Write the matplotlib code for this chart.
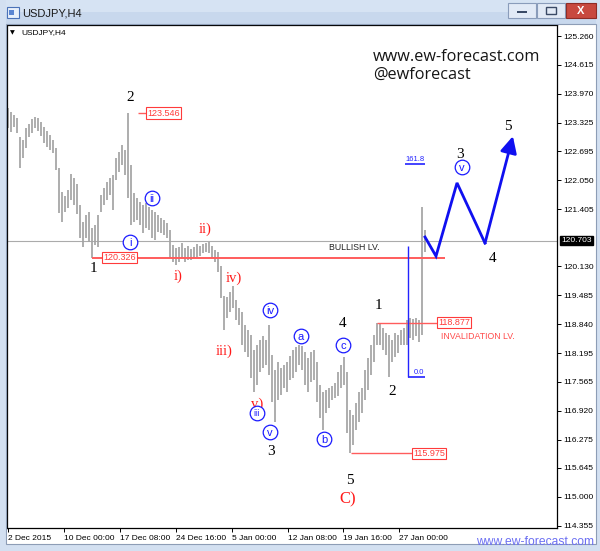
import matplotlib
matplotlib.use('Agg')
import matplotlib.pyplot as plt
from matplotlib.patches import Rectangle

plt.rcParams['font.family'] = ['Liberation Sans', 'DejaVu Sans']

# ---------------- data (USDJPY H4, one entry per bar) ----------------
bar_high = [123.66, 123.57, 123.50, 123.43, 123.01, 122.94, 123.21, 123.30, 123.41, 123.46,
            123.43, 123.35, 123.23, 123.15, 123.06, 122.94, 122.77, 122.32, 121.79, 121.70,
            121.83, 122.19, 122.10, 121.97, 121.50, 121.12, 121.27, 121.34, 120.99, 121.05,
            121.27, 121.72, 121.88, 122.01, 122.10, 122.17, 122.54, 122.68, 122.83, 122.72,
            123.546, 122.39, 121.77, 121.65, 121.56, 121.50, 121.54, 121.45, 121.39, 121.34,
            121.27, 121.21, 121.16, 121.10, 120.94, 120.61, 120.54, 120.56, 120.65, 120.54,
            120.59, 120.52, 120.56, 120.63, 120.59, 120.63, 120.65, 120.67, 120.59, 120.50,
            120.45, 120.14, 119.47, 119.45, 119.56, 119.70, 119.38, 119.21, 119.12, 118.83,
            118.72, 118.60, 118.27, 118.38, 118.49, 118.58, 118.49, 118.83, 118.16, 117.82,
            118.00, 117.87, 117.94, 118.00, 118.14, 118.27, 118.34, 118.38, 118.36, 118.23,
            118.09, 118.23, 118.27, 118.00, 117.49, 117.34, 117.38, 117.42, 117.47, 117.54,
            117.78, 117.94, 118.11, 117.78, 116.93, 116.82, 117.09, 117.34, 117.42, 117.82,
            118.09, 118.38, 118.60, 118.877, 118.87, 118.76, 118.65, 118.60, 118.49, 118.65,
            118.60, 118.72, 118.76, 118.94, 118.98, 118.96, 118.98, 118.94, 121.45, 120.94]
bar_low = [123.21, 123.12, 123.23, 123.10, 122.32, 122.54, 122.77, 123.01, 123.10, 123.21,
           123.15, 123.03, 122.88, 122.79, 122.72, 122.66, 122.28, 121.32, 121.12, 121.34,
           121.43, 121.61, 121.50, 121.30, 120.76, 120.56, 120.76, 120.67, 120.326, 120.61,
           120.56, 121.34, 121.50, 121.61, 121.72, 121.39, 122.05, 122.23, 122.39, 122.17,
           121.65, 121.05, 121.12, 121.16, 121.05, 120.87, 120.99, 120.94, 120.76, 120.72,
           120.90, 120.87, 120.83, 120.76, 120.32, 120.23, 120.16, 120.23, 120.32, 120.23,
           120.27, 120.27, 120.32, 120.34, 120.36, 120.43, 120.45, 120.43, 120.32, 120.23,
           120.01, 119.43, 118.72, 118.98, 119.12, 119.21, 118.94, 118.83, 118.38, 118.23,
           118.11, 117.65, 117.34, 117.49, 117.78, 117.87, 117.94, 117.71, 117.11, 116.67,
           117.16, 117.27, 117.42, 117.34, 117.60, 117.65, 117.78, 117.94, 117.82, 117.49,
           117.34, 117.56, 117.60, 117.11, 116.76, 116.49, 116.87, 116.98, 117.16, 117.20,
           117.25, 117.42, 117.49, 116.42, 115.975, 116.16, 116.49, 116.67, 116.87, 117.16,
           117.38, 117.71, 118.00, 118.38, 118.38, 118.27, 118.16, 117.67, 118.00, 118.11,
           118.20, 118.38, 118.38, 118.38, 118.54, 118.49, 118.58, 118.45, 118.60, 120.45]

ytick_vals = [125.260, 124.615, 123.970, 123.325, 122.695, 122.050, 121.405, 120.130,
              119.485, 118.840, 118.195, 117.565, 116.920, 116.275, 115.645, 115.000, 114.355]
xtick_labels = ['2 Dec 2015', '10 Dec 00:00', '17 Dec 08:00', '24 Dec 16:00',
                '5 Jan 00:00', '12 Jan 08:00', '19 Jan 16:00', '27 Jan 00:00']
xtick_bars = [0, 18.67, 37.33, 56, 74.67, 93.33, 111.67, 130.33]

last_price = 120.703

# price levels: (value, start bar, end bar, label box left bar)
levels = [(123.546, 43.3, 46.3, 46.3), (120.326, 28, 145.7, 31.7),
          (118.877, 123, 143.3, 143.3), (115.975, 114.3, 135, 135)]

# fibonacci tool
fib_x = 133.33
fib_x_end = 139
fib_zero = 117.67
fib_top = 120.59
fib_1618 = 122.41

# projected path (bar, price)
path_bars = [139, 142.67, 149.67, 159, 168.3]
path_prices = [120.785, 120.36, 121.99, 120.65, 123.03]

# wave labels
black_labels = ['2', '1', '3', '4', '5', '1', '2', '3', '5', '4']
black_bars = [40.67, 28.33, 87.67, 111.67, 114, 123.33, 128, 150.67, 166.67, 161.67]
black_prices = [123.90, 120.095, 116.022, 118.871, 115.376, 119.272, 117.357, 122.633, 123.256, 120.318]

red_labels = ['i)', 'ii)', 'iii)', 'iv)', 'v)', 'C)']
red_bars = [56.67, 65.67, 72, 75.33, 83, 113.33]
red_prices = [119.917, 120.963, 118.25, 119.873, 117.068, 114.953]

circ_labels = ['i', 'ii', 'iii', 'iv', 'v', 'a', 'b', 'c', 'v']
circ_bars = [40.67, 48, 83, 87.33, 87.33, 97.67, 105.33, 111.67, 151.33]
circ_prices = [120.674, 121.654, 116.868, 119.160, 116.445, 118.582, 116.289, 118.381, 122.344]

# ---------------- figure ----------------
W, H = 600, 551
fig = plt.figure(figsize=(W / 100, H / 100), dpi=100)
fig.patch.set_facecolor('white')


def frect(x0, y0, x1, y1, **kw):
    r = Rectangle((x0 / W, 1 - y1 / H), (x1 - x0) / W, (y1 - y0) / H,
                  transform=fig.transFigure, **kw)
    fig.add_artist(r)
    return r


frame_c = '#d3e0f1'
frect(0, 0, 600, 12, fc='#d6e3f3', ec='none')
frect(0, 12, 600, 24, fc='#c8d8ed', ec='none')
frect(0, 0, 5.5, 551, fc=frame_c, ec='none')
frect(0, 544, 600, 551, fc=frame_c, ec='none')
frect(596, 0, 600, 551, fc=frame_c, ec='none')
frect(5.5, 23.5, 596, 544, fc='none', ec='#8d9db6', lw=0.8)

# title bar icon + text
frect(7, 7, 19, 18, fc='#e8f0fb', ec='#4a72b8', lw=0.8)
frect(9, 10, 14, 15, fc='#5b86d2', ec='none')
fig.text(22 / W, 1 - 13 / H, 'USDJPY,H4', fontsize=8, va='center', ha='left', color='#1a1a1a')
# window buttons
frect(508, 3, 536, 18, fc='#e2eaf6', ec='#8a9cba', lw=0.8)
frect(517, 11, 527, 13, fc='#3a4a66', ec='none')
frect(537, 3, 565, 18, fc='#e2eaf6', ec='#8a9cba', lw=0.8)
frect(546, 7, 556, 14, fc='none', ec='#3a4a66', lw=1.0)
frect(566, 3, 596, 18, fc='#c8493f', ec='#8e2c26', lw=0.8)
fig.text(581 / W, 1 - 10.5 / H, 'X', fontsize=8, fontweight='bold', color='white',
         ha='center', va='center')

# ---------------- chart axes ----------------
ax = fig.add_axes([7 / W, 1 - 528 / H, 550 / W, 503 / H])
ax.set_facecolor('white')
ax.set_xlim(-1 / 3, 183)
ax.set_ylim(114.308, 125.505)
for s in ax.spines.values():
    s.set_color('black')
    s.set_linewidth(0.9)

bars_x = list(range(len(bar_high)))
ax.vlines(bars_x, bar_low, bar_high, color='#a3a3a3', lw=1.25, zorder=2)

ax.yaxis.tick_right()
ax.set_yticks(ytick_vals)
ax.set_yticklabels([f'{v:.3f}' for v in ytick_vals])
ax.set_xticks(xtick_bars)
ax.set_xticklabels(xtick_labels)
for lbl in ax.get_xticklabels():
    lbl.set_horizontalalignment('left')
ax.tick_params(axis='y', direction='out', length=3, width=0.7, pad=1.5, labelsize=6)
ax.tick_params(axis='x', direction='out', length=3, width=0.7, pad=2, labelsize=6)

# current price line and label
ax.axhline(last_price, color='#ababab', lw=0.8, zorder=1)
ax.text(1.007, last_price, f'{last_price:.3f}', transform=ax.get_yaxis_transform(),
        ha='left', va='center', fontsize=6, color='white', clip_on=False,
        bbox=dict(boxstyle='square,pad=0.15', fc='black', ec='black'))

red = '#ff3b3b'
for val, x0, x1, xl in levels:
    ax.hlines(val, x0, x1, color='#ff5c5c', lw=1.4 if val == 120.326 else 1.0, zorder=3)
    ax.text(xl, val, f'{val:.3f}', ha='left', va='center', fontsize=6.5, color=red, zorder=5,
            bbox=dict(boxstyle='square,pad=0.12', fc='white', ec=red, lw=0.8))

ax.text(115.33, 120.563, 'BULLISH LV.', ha='center', va='center', fontsize=6.3, color='#222222')
ax.text(144.3, 118.56, 'INVALIDATION LV.', ha='left', va='center', fontsize=6.3, color='#ff4a4a')

# fibonacci tool
blue_f = '#2323ff'
ax.vlines(fib_x, fib_zero, fib_top, color=blue_f, lw=1.0, zorder=4)
ax.hlines([fib_zero, fib_1618], [fib_x, fib_x - 1], fib_x_end, color=blue_f, lw=1.2, zorder=4)
ax.text(fib_x_end - 0.3, fib_zero + 0.03, '0.0', ha='right', va='bottom', fontsize=5.5, color=blue_f)
ax.text(fib_x_end - 0.3, fib_1618 + 0.03, '161.8', ha='right', va='bottom', fontsize=5.5, color=blue_f)

# projected path
blue = '#1010f0'
ax.plot(path_bars[:-1], path_prices[:-1], color=blue, lw=2.0, solid_joinstyle='miter', zorder=6)
ax.annotate('', xy=(path_bars[-1], path_prices[-1]), xytext=(path_bars[-2], path_prices[-2]),
            arrowprops=dict(arrowstyle='-|>,head_length=1.0,head_width=0.5', color=blue,
                            lw=2.0, shrinkA=0, shrinkB=0), zorder=6)

# wave labels
for t, bx, p in zip(black_labels, black_bars, black_prices):
    ax.text(bx, p, t, ha='center', va='center', fontsize=11, color='black',
            family='Liberation Serif', zorder=7)
for t, bx, p in zip(red_labels, red_bars, red_prices):
    ax.text(bx, p, t, ha='center', va='center', fontsize=12 if t == 'C)' else 10.5,
            color='#ff1a1a', family='Liberation Serif', zorder=7)
circ_blue = '#1a1aff'
ax.plot(circ_bars, circ_prices, 'o', ms=10.5, mfc='white', mec=circ_blue, mew=0.9, zorder=7)
for t, bx, p in zip(circ_labels, circ_bars, circ_prices):
    ax.text(bx, p, t, ha='center', va='center_baseline', fontsize=6.5 if t == 'iii' else 8,
            color=circ_blue, zorder=8)

# chart-corner symbol label
fig.text(10 / W, 1 - 33 / H, '\u25bc', fontsize=4.5, va='center', ha='left', color='black',
         family='DejaVu Sans')
fig.text(21 / W, 1 - 33 / H, 'USDJPY,H4', fontsize=6, va='center', ha='left', color='black')

# watermark
fig.text(373 / W, 1 - 57 / H, 'www.ew-forecast.com', fontsize=11.7, va='center', ha='left',
         color='#151515', family='Open Sans')
fig.text(373 / W, 1 - 75 / H, '@ewforecast', fontsize=11.7, va='center', ha='left',
         color='#151515', family='Open Sans')
fig.text(594 / W, 1 - 542 / H, 'www.ew-forecast.com', fontsize=8.7, va='center', ha='right',
         color='#6b6ff2')

fig.savefig('out.png', dpi=100, facecolor=fig.get_facecolor())
